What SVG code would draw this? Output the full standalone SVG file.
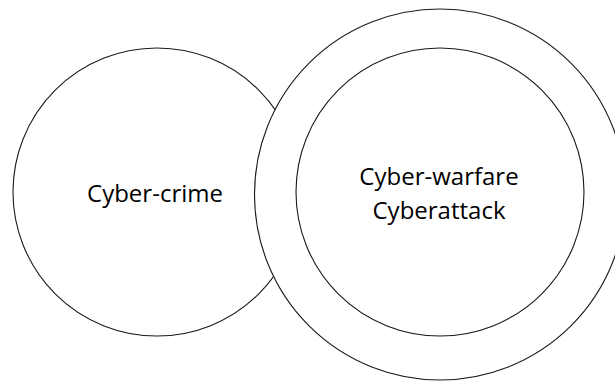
<svg xmlns="http://www.w3.org/2000/svg" width="615" height="383" viewBox="0 0 615 383">
  <style>
    .ring { fill: #ffffff; stroke: #1a1a1a; stroke-width: 1.1; }
    .label { font-family: "Open Sans", "Noto Sans", "Liberation Sans", sans-serif; font-size: 24px; fill: #000000; text-anchor: middle; }
  </style>
  <rect width="615" height="383" fill="#ffffff"/>
  <!-- Cyber-crime set -->
  <g id="cybercrime">
    <circle class="ring" cx="157" cy="192" r="144"/>
    <text class="label" x="155" y="202">Cyber-crime</text>
  </g>
  <!-- outer set drawn over the left one, hiding the overlap -->
  <g id="outer">
    <circle class="ring" cx="440" cy="194.5" r="185.5"/>
  </g>
  <!-- inner set nested in the outer one -->
  <g id="cyberwarfare">
    <circle class="ring" cx="440" cy="192" r="144"/>
    <text class="label" x="439" y="185">Cyber-warfare</text>
    <text class="label" x="439" y="219">Cyberattack</text>
  </g>
</svg>
